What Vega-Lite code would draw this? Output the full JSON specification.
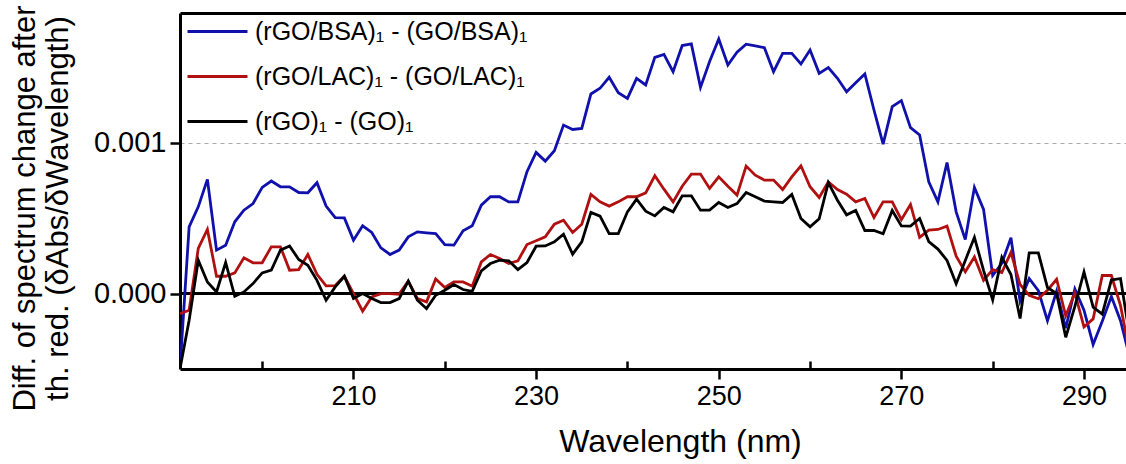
{
  "$schema": "https://vega.github.io/schema/vega-lite/v6.json",
  "autosize": {"type": "none"},
  "padding": {"left": 180, "top": 13, "right": 0, "bottom": 95},
  "width": 946,
  "height": 356,
  "config": {
    "font": "Liberation Sans",
    "view": {"stroke": null},
    "axis": {"labelColor": "black", "titleColor": "black", "domainColor": "black", "tickColor": "black"}
  },
  "data": {
    "values": [
      {"w":191,"BSA":-0.000498,"LAC":-0.000133,"GO":-0.000498},
      {"w":192,"BSA":0.000442,"LAC":-0.000111,"GO":-0.000177},
      {"w":193,"BSA":0.000575,"LAC":0.000299,"GO":0.000221},
      {"w":194,"BSA":0.000757,"LAC":0.000425,"GO":0.000077},
      {"w":195,"BSA":0.000288,"LAC":0.000115,"GO":0.000011},
      {"w":196,"BSA":0.000321,"LAC":0.000115,"GO":0.000206},
      {"w":197,"BSA":0.000476,"LAC":0.000137,"GO":-0.000018},
      {"w":198,"BSA":0.000553,"LAC":0.000237,"GO":0.000011},
      {"w":199,"BSA":0.000597,"LAC":0.000204,"GO":0.000066},
      {"w":200,"BSA":0.000704,"LAC":0.000204,"GO":0.000137},
      {"w":201,"BSA":0.000746,"LAC":0.00031,"GO":0.000155},
      {"w":202,"BSA":0.000708,"LAC":0.00031,"GO":0.000288},
      {"w":203,"BSA":0.000708,"LAC":0.000155,"GO":0.000316},
      {"w":204,"BSA":0.00067,"LAC":0.000159,"GO":0.000226},
      {"w":205,"BSA":0.000668,"LAC":0.000259,"GO":0.000188},
      {"w":206,"BSA":0.000735,"LAC":0.000128,"GO":0.000088},
      {"w":207,"BSA":0.00058,"LAC":0.000051,"GO":-0.000044},
      {"w":208,"BSA":0.000504,"LAC":0.000053,"GO":0.000044},
      {"w":209,"BSA":0.000502,"LAC":0.000115,"GO":0.000115},
      {"w":210,"BSA":0.000354,"LAC":0.0,"GO":-0.000033},
      {"w":211,"BSA":0.000449,"LAC":-0.000117,"GO":0.0},
      {"w":212,"BSA":0.000405,"LAC":-0.000022,"GO":-0.000033},
      {"w":213,"BSA":0.000303,"LAC":0.0,"GO":-0.00006},
      {"w":214,"BSA":0.000259,"LAC":0.0,"GO":-0.00006},
      {"w":215,"BSA":0.000288,"LAC":-0.000004,"GO":-0.000033},
      {"w":216,"BSA":0.000376,"LAC":0.000082,"GO":0.000082},
      {"w":217,"BSA":0.000409,"LAC":-0.000033,"GO":-0.000044},
      {"w":218,"BSA":0.000403,"LAC":-0.000055,"GO":-0.0001},
      {"w":219,"BSA":0.000398,"LAC":0.000097,"GO":-0.000011},
      {"w":220,"BSA":0.000325,"LAC":0.00004,"GO":0.000022},
      {"w":221,"BSA":0.000321,"LAC":0.000077,"GO":0.00006},
      {"w":222,"BSA":0.000416,"LAC":0.000077,"GO":0.000027},
      {"w":223,"BSA":0.000449,"LAC":0.000049,"GO":0.000015},
      {"w":224,"BSA":0.000586,"LAC":0.00021,"GO":0.00015},
      {"w":225,"BSA":0.000642,"LAC":0.000259,"GO":0.000199},
      {"w":226,"BSA":0.000642,"LAC":0.000232,"GO":0.000221},
      {"w":227,"BSA":0.000608,"LAC":0.000199,"GO":0.000217},
      {"w":228,"BSA":0.000608,"LAC":0.000217,"GO":0.000159},
      {"w":229,"BSA":0.000808,"LAC":0.000325,"GO":0.000206},
      {"w":230,"BSA":0.000936,"LAC":0.00035,"GO":0.000314},
      {"w":231,"BSA":0.000878,"LAC":0.000376,"GO":0.000316},
      {"w":232,"BSA":0.000947,"LAC":0.00046,"GO":0.000343},
      {"w":233,"BSA":0.001117,"LAC":0.000487,"GO":0.000394},
      {"w":234,"BSA":0.001088,"LAC":0.000405,"GO":0.000261},
      {"w":235,"BSA":0.001095,"LAC":0.00046,"GO":0.000343},
      {"w":236,"BSA":0.001323,"LAC":0.000657,"GO":0.000538},
      {"w":237,"BSA":0.001361,"LAC":0.000608,"GO":0.000513},
      {"w":238,"BSA":0.001434,"LAC":0.00058,"GO":0.000398},
      {"w":239,"BSA":0.001332,"LAC":0.000608,"GO":0.000398},
      {"w":240,"BSA":0.001294,"LAC":0.000642,"GO":0.000542},
      {"w":241,"BSA":0.001427,"LAC":0.000642,"GO":0.000626},
      {"w":242,"BSA":0.001383,"LAC":0.000668,"GO":0.000546},
      {"w":243,"BSA":0.001566,"LAC":0.000781,"GO":0.000515},
      {"w":244,"BSA":0.001586,"LAC":0.000692,"GO":0.000571},
      {"w":245,"BSA":0.001471,"LAC":0.000608,"GO":0.000542},
      {"w":246,"BSA":0.001644,"LAC":0.000712,"GO":0.000648},
      {"w":247,"BSA":0.001655,"LAC":0.000792,"GO":0.000648},
      {"w":248,"BSA":0.001367,"LAC":0.000792,"GO":0.000553},
      {"w":249,"BSA":0.001538,"LAC":0.000697,"GO":0.000553},
      {"w":250,"BSA":0.001688,"LAC":0.000774,"GO":0.000604},
      {"w":251,"BSA":0.001515,"LAC":0.000712,"GO":0.000571},
      {"w":252,"BSA":0.0016,"LAC":0.000653,"GO":0.000597},
      {"w":253,"BSA":0.001653,"LAC":0.000845,"GO":0.00067},
      {"w":254,"BSA":0.001642,"LAC":0.000785,"GO":0.000642},
      {"w":255,"BSA":0.00163,"LAC":0.000752,"GO":0.000613},
      {"w":256,"BSA":0.001471,"LAC":0.000752,"GO":0.000608},
      {"w":257,"BSA":0.001593,"LAC":0.00069,"GO":0.000604},
      {"w":258,"BSA":0.001593,"LAC":0.000774,"GO":0.000657},
      {"w":259,"BSA":0.001522,"LAC":0.000847,"GO":0.000498},
      {"w":260,"BSA":0.001615,"LAC":0.000708,"GO":0.000442},
      {"w":261,"BSA":0.00146,"LAC":0.000637,"GO":0.000496},
      {"w":262,"BSA":0.001498,"LAC":0.000741,"GO":0.000735},
      {"w":263,"BSA":0.001427,"LAC":0.00069,"GO":0.000619},
      {"w":264,"BSA":0.001338,"LAC":0.000659,"GO":0.000522},
      {"w":265,"BSA":0.001398,"LAC":0.000608,"GO":0.000551},
      {"w":266,"BSA":0.001456,"LAC":0.000631,"GO":0.000418},
      {"w":267,"BSA":0.001217,"LAC":0.000504,"GO":0.000418},
      {"w":268,"BSA":0.000991,"LAC":0.000608,"GO":0.000396},
      {"w":269,"BSA":0.001239,"LAC":0.000608,"GO":0.000551},
      {"w":270,"BSA":0.001279,"LAC":0.00049,"GO":0.000449},
      {"w":271,"BSA":0.0011,"LAC":0.000591,"GO":0.000447},
      {"w":272,"BSA":0.001051,"LAC":0.000372,"GO":0.000498},
      {"w":273,"BSA":0.000741,"LAC":0.00042,"GO":0.000345},
      {"w":274,"BSA":0.000608,"LAC":0.000425,"GO":0.000295},
      {"w":275,"BSA":0.000869,"LAC":0.000447,"GO":0.00022},
      {"w":276,"BSA":0.000542,"LAC":0.000248,"GO":0.000065},
      {"w":277,"BSA":0.000358,"LAC":0.000144,"GO":0.00022},
      {"w":278,"BSA":0.000704,"LAC":0.000243,"GO":0.000373},
      {"w":279,"BSA":0.000558,"LAC":0.000088,"GO":0.000154},
      {"w":280,"BSA":0.00012,"LAC":0.000159,"GO":-0.000042},
      {"w":281,"BSA":0.0002,"LAC":0.00014,"GO":0.00024},
      {"w":282,"BSA":0.00037,"LAC":0.000273,"GO":0.000126},
      {"w":283,"BSA":-0.00005,"LAC":0.00006,"GO":-0.000165},
      {"w":284,"BSA":0.0001,"LAC":-0.000012,"GO":0.00027},
      {"w":285,"BSA":0.00002,"LAC":-0.000034,"GO":0.00027},
      {"w":286,"BSA":-0.00018,"LAC":0.000022,"GO":0.00004},
      {"w":287,"BSA":0.000015,"LAC":0.000095,"GO":0.0},
      {"w":288,"BSA":-0.00023,"LAC":-0.000147,"GO":-0.00029},
      {"w":289,"BSA":0.00003,"LAC":0.000005,"GO":-0.000085},
      {"w":290,"BSA":-0.00011,"LAC":-0.000222,"GO":0.000143},
      {"w":291,"BSA":-0.000337,"LAC":-0.000168,"GO":-0.00009},
      {"w":292,"BSA":-0.000183,"LAC":0.00012,"GO":-0.000136},
      {"w":293,"BSA":-0.00002,"LAC":0.00012,"GO":0.00009},
      {"w":294,"BSA":-0.00018,"LAC":-0.00008,"GO":0.0001},
      {"w":295,"BSA":-0.00042,"LAC":-0.00039,"GO":-0.00028}
    ]
  },
  "resolve": {"axis": {"x": "independent"}},
  "layer": [
    {
      "mark": {"type": "rule", "color": "black", "strokeWidth": 2.5},
      "encoding": {
        "x": {"datum": 191, "type": "quantitative", "scale": {"domain": [191, 294.6], "nice": false, "zero": false},
              "axis": {"orient": "top", "ticks": false, "labels": false, "title": null, "grid": false, "domainWidth": 3}},
        "x2": {"datum": 294.6},
        "y": {"datum": 0, "type": "quantitative"}
      }
    },
    {
      "transform": [{"fold": ["BSA", "LAC", "GO"], "as": ["series", "value"]}],
      "mark": {"type": "line", "strokeWidth": 2.8, "clip": true},
      "encoding": {
        "x": {"field": "w", "type": "quantitative",
              "scale": {"domain": [191, 294.6], "nice": false, "zero": false},
              "axis": {"orient": "bottom", "values": [200,210,220,230,240,250,260,270,280,290],
                       "labelExpr": "datum.value % 20 == 10 ? datum.label : ''",
                       "tickSize": {"condition": {"test": "datum.value % 20 == 0", "value": -8}, "value": 10},
                       "tickWidth": 2.5, "domainWidth": 3, "grid": false,
                       "labelFontSize": 27, "labelPadding": 4,
                       "title": "Wavelength (nm)", "titleFontSize": 32, "titleFontWeight": "normal",
                       "titlePadding": 17, "titleX": 500}},
        "y": {"field": "value", "type": "quantitative",
              "scale": {"domain": [-0.0005, 0.00186], "nice": false, "zero": false},
              "axis": {"values": [0, 0.001], "format": ".3f", "tickSize": 10, "tickWidth": 2.5, "domainWidth": 3,
                       "labelFontSize": 29, "labelPadding": 4,
                       "grid": true, "gridDash": [4, 4], "gridColor": "#aaaaaa", "gridWidth": 1.2,
                       "title": ["Diff. of spectrum change after", "th. red. (δAbs/δWavelength)"],
                       "titleFontSize": 31, "titleFontWeight": "normal", "titleLineHeight": 33,
                       "titleX": -139, "titleY": 195, "titleBaseline": "bottom", "titleAngle": -90, "titleAlign": "center"}},
        "color": {"field": "series", "type": "nominal",
                  "scale": {"domain": ["BSA", "LAC", "GO"], "range": ["#1010ac", "#b01010", "#000000"]},
                  "legend": {"orient": "none", "legendX": 6, "legendY": -13, "title": null,
                             "symbolType": "stroke", "symbolSize": 3600, "symbolStrokeWidth": 3,
                             "labelFontSize": 25, "labelOffset": 6, "rowPadding": -15, "labelLimit": 0,
                             "labelExpr": "datum.value == 'BSA' ? '(rGO/BSA)₁ - (GO/BSA)₁' : datum.value == 'LAC' ? '(rGO/LAC)₁ - (GO/LAC)₁' : '(rGO)₁ - (GO)₁'"}}
      }
    }
  ]
}
